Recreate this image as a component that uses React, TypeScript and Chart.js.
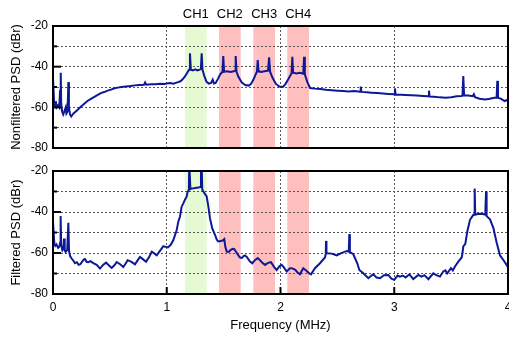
import React, { useEffect, useRef } from 'react';
import Chart from 'chart.js/auto';

// ---------- data ----------
const freqTop = [
  0.0, 0.01, 0.018, 0.025, 0.032, 0.045, 0.055, 0.062, 0.068, 0.072, 0.08, 0.09, 0.1, 0.112, 0.118, 0.128, 0.135, 0.14,
  0.15, 0.16, 0.18, 0.21, 0.24, 0.27, 0.3, 0.33, 0.36, 0.39, 0.42, 0.45, 0.48, 0.51, 0.54, 0.57, 0.6, 0.64, 0.68, 0.72,
  0.76, 0.8, 0.81, 0.82, 0.86, 0.9, 0.94, 0.98, 1.0, 1.03, 1.06, 1.08, 1.1, 1.12, 1.14, 1.16, 1.18, 1.196, 1.204, 1.212,
  1.23, 1.25, 1.27, 1.29, 1.3, 1.307, 1.314, 1.33, 1.35, 1.37, 1.39, 1.404, 1.415, 1.43, 1.45, 1.47, 1.49, 1.497, 1.504,
  1.53, 1.56, 1.59, 1.6, 1.606, 1.613, 1.63, 1.66, 1.69, 1.72, 1.74, 1.76, 1.78, 1.793, 1.8, 1.807, 1.83, 1.86, 1.89, 1.9,
  1.908, 1.93, 1.96, 1.99, 2.02, 2.04, 2.06, 2.08, 2.097, 2.104, 2.111, 2.14, 2.17, 2.2, 2.207, 2.214, 2.235, 2.26, 2.3,
  2.35, 2.4, 2.45, 2.5, 2.55, 2.6, 2.65, 2.7, 2.705, 2.712, 2.76, 2.8, 2.85, 2.9, 2.95, 3.0, 3.006, 3.012, 3.06, 3.1, 3.15,
  3.2, 3.25, 3.3, 3.305, 3.311, 3.35, 3.4, 3.45, 3.5, 3.55, 3.59, 3.6, 3.607, 3.614, 3.65, 3.69, 3.7, 3.71, 3.75, 3.8,
  3.84, 3.88, 3.9, 3.906, 3.912, 3.94, 3.97, 4.0,
];
const psdTop = [
  -45.5, -58, -60, -57, -60, -59, -60, -52, -43, -58, -62, -63.5, -62, -60, -63, -62, -47.5, -60,
  -63.5, -64.5, -63, -61.5, -60, -58.5, -57, -56, -55, -54, -53, -52.5, -51.8, -51.3, -50.6, -50.3, -50, -49.7, -49.5, -49.2,
  -49, -48.9, -47.8, -48.9, -48.6, -48.7, -48.4, -48.5, -48.3, -48.0, -48.4, -48.0, -47.6, -47.2, -46.2, -44.8, -43.0, -41.5, -33.4, -41.5,
  -41.8, -41.3, -41.8, -41.5, -41.0, -33.4, -41.5, -44.5, -47.5, -48.3, -48.0, -46.4, -48.3, -48.0, -46.0, -43.8, -42.5, -34.8, -42.5,
  -42.3, -42.6, -42.3, -42.0, -34.8, -42.5, -45.0, -47.8, -49.0, -49.3, -48.5, -46.6, -44.0, -42.5, -36.7, -42.3, -42.6, -42.3, -42.0, -35.4,
  -42.5, -45.5, -48.5, -49.8, -50.0, -48.8, -47.0, -45.0, -43.3, -35.1, -43.0, -43.3, -43.0, -43.5, -35.1, -43.8, -47.5, -50.5, -50.8,
  -51.0, -51.4, -51.6, -51.8, -52.0, -52.2, -52.0, -52.3, -49.8, -52.4, -52.6, -52.8, -53.0, -53.2, -53.4, -53.6, -50.7, -53.8, -53.8, -53.9, -54.0,
  -54.2, -54.4, -54.6, -51.8, -54.7, -54.8, -55.1, -55.3, -55.0, -54.6, -54.4, -54.3, -44.6, -54.2, -54.2, -54.5, -53.6, -55.0, -55.8, -56.2,
  -55.8, -55.3, -55.2, -47.0, -55.3, -55.8, -56.9, -56.2,
];

const freqBottom = [
  0.0, 0.012, 0.02, 0.03, 0.045, 0.055, 0.062, 0.067, 0.072, 0.082, 0.092, 0.097, 0.103, 0.111, 0.125, 0.135, 0.141, 0.15,
  0.164, 0.18, 0.193, 0.21, 0.225, 0.24, 0.255, 0.27, 0.281, 0.295, 0.31, 0.33, 0.35, 0.384, 0.413, 0.44, 0.466, 0.49,
  0.516, 0.54, 0.56, 0.59, 0.618, 0.64, 0.656, 0.69, 0.721, 0.745, 0.765, 0.79, 0.818, 0.845, 0.868, 0.89, 0.912, 0.94,
  0.97, 0.99, 1.01, 1.035, 1.058, 1.087, 1.102, 1.116, 1.131, 1.146, 1.16, 1.175, 1.184, 1.194, 1.198, 1.204, 1.208, 1.219,
  1.25, 1.278, 1.296, 1.301, 1.307, 1.312, 1.321, 1.34, 1.351, 1.365, 1.38, 1.4, 1.424, 1.44, 1.453, 1.475, 1.495, 1.506,
  1.515, 1.527, 1.545, 1.56, 1.58, 1.594, 1.61, 1.623, 1.64, 1.659, 1.675, 1.688, 1.705, 1.73, 1.752, 1.775, 1.8, 1.82,
  1.835, 1.864, 1.89, 1.916, 1.94, 1.966, 1.99, 2.01, 2.03, 2.054, 2.083, 2.105, 2.13, 2.15, 2.171, 2.2, 2.225, 2.25,
  2.268, 2.303, 2.347, 2.391, 2.398, 2.4, 2.404, 2.412, 2.45, 2.494, 2.53, 2.582, 2.6, 2.605, 2.61, 2.64, 2.675, 2.693,
  2.728, 2.772, 2.8, 2.816, 2.845, 2.875, 2.91, 2.948, 2.975, 3.0, 3.03, 3.05, 3.074, 3.1, 3.133, 3.167, 3.212, 3.24,
  3.265, 3.3, 3.343, 3.37, 3.402, 3.431, 3.45, 3.465, 3.499, 3.515, 3.534, 3.563, 3.593, 3.6, 3.607, 3.625, 3.642, 3.666,
  3.695, 3.702, 3.707, 3.712, 3.735, 3.754, 3.78, 3.8, 3.807, 3.812, 3.842, 3.871, 3.9, 3.93, 3.959, 3.988, 4.0,
];
const psdBottom = [
  -44.8, -55.5, -56.5, -55.8, -57.5, -57.0, -55, -42, -56, -58.6, -57.5, -52.9, -58.8, -59.5, -58.5, -45.3, -59, -61.5,
  -62.7, -63.8, -65, -64.5, -65.8, -65.5, -64.3, -63.2, -62.9, -64.3, -64.5, -64.0, -64.8, -65.8, -67.6, -65.8, -64.7, -66.0,
  -67.3, -66.0, -64.4, -65.5, -66.8, -65.0, -63.5, -64.3, -65.5, -63.5, -61.9, -63.0, -64.3, -62.0, -59.4, -60.2, -61.1, -59.0,
  -56.7, -57.0, -57.3, -56.0, -53.7, -48.9, -44.6, -42.3, -37.3, -35.8, -34, -32.5, -30.0, -29.5, -17, -17, -28.8, -28.6,
  -28.3, -28.0, -27.8, -17, -17, -29.0, -29.9, -31.5, -32.4, -37, -43.0, -48, -51.1, -53.5, -54.4, -54.2, -53.8, -53.2,
  -57.0, -59.3, -59.5, -58.6, -58.0, -58.1, -59.5, -60.6, -62.0, -62.5, -61.5, -61.2, -62.0, -64.0, -65.0, -63.5, -62.5, -63.5,
  -64.5, -65.8, -64.8, -64.5, -66.5, -68.3, -66.5, -65.8, -67.0, -69.0, -67.4, -67.5, -68.2, -69.5, -70.4, -67.4, -68.5, -69.8,
  -70.4, -67.4, -65.0, -62.2, -60.5, -54.1, -60.0, -60.1, -60.3, -61.2, -60.2, -59.0, -59.3, -50.8, -59.5, -60.6, -65.0, -68.3,
  -69.9, -72.3, -71.0, -70.4, -72.0, -72.3, -70.8, -70.7, -72.5, -73.1, -71.0, -71.5, -71.0, -72.0, -70.4, -72.7, -70.7, -71.5,
  -70.8, -72.8, -69.9, -70.8, -71.5, -69.0, -68.5, -70.0, -67.4, -68.5, -66.6, -64.2, -62.2, -60, -56.8, -55.5, -49.5, -43.8,
  -41.4, -41.2, -28.6, -41.3, -41.0, -40.9, -41.0, -41.3, -29.9, -42.0, -43.6, -47.7, -54.9, -61.2, -63.4, -65.8, -67,
];

const chLabels = ['CH1', 'CH2', 'CH3', 'CH4'];
const chStart = [1.16, 1.459, 1.761, 2.06];
const chEnd = [1.351, 1.65, 1.952, 2.251];
const chColors = ['#e5f9d3', '#ffbfbf', '#ffbfbf', '#ffbfbf'];

const yMin = -80;
const yMax = -20;
const xMin = 0;
const xMax = 4;

const FONT = "'Liberation Sans', Arial, Helvetica, sans-serif";
const LINE_COLOR = '#0c1896';

// ---------- plugins ----------
const shadePlugin = {
  id: 'shade',
  beforeDraw(chart: any) {
    const { ctx, chartArea, scales } = chart;
    const xs = scales.x;
    ctx.save();
    for (let i = 0; i < chLabels.length; i++) {
      const a = xs.getPixelForValue(chStart[i]);
      const b = xs.getPixelForValue(chEnd[i]);
      ctx.fillStyle = chColors[i];
      ctx.fillRect(a, chartArea.top, b - a, chartArea.bottom - chartArea.top);
    }
    ctx.restore();
  },
};

const framePlugin = {
  id: 'frame',
  afterDraw(chart: any, _args: any, opts: any) {
    const { ctx, chartArea, scales } = chart;
    const ys = scales.y;
    const xs = scales.x;
    ctx.save();
    ctx.strokeStyle = '#000';
    ctx.lineWidth = 2;
    ctx.strokeRect(chartArea.left, chartArea.top, chartArea.right - chartArea.left, chartArea.bottom - chartArea.top);
    for (let v = yMin; v <= yMax; v += 10) {
      const y = ys.getPixelForValue(v);
      const len = v % 20 === 0 ? 8 : 4;
      ctx.beginPath();
      ctx.moveTo(chartArea.left, y);
      ctx.lineTo(chartArea.left + len, y);
      ctx.stroke();
    }
    if (opts && opts.xTicks) {
      for (let v = xMin; v <= xMax; v += 1) {
        const x = xs.getPixelForValue(v);
        ctx.beginPath();
        ctx.moveTo(x, chartArea.bottom);
        ctx.lineTo(x, chartArea.bottom - 7);
        ctx.stroke();
      }
    }
    if (opts && opts.labels) {
      ctx.fillStyle = '#000';
      ctx.font = `13px ${FONT}`;
      ctx.textAlign = 'center';
      ctx.textBaseline = 'middle';
      for (let i = 0; i < chLabels.length; i++) {
        const cx = (xs.getPixelForValue(chStart[i]) + xs.getPixelForValue(chEnd[i])) / 2;
        ctx.fillText(chLabels[i], cx, 14);
      }
    }
    ctx.restore();
  },
};

function makeConfig(freq: number[], psd: number[], top: boolean, yTitle: string): any {
  const data = freq.map((f, i) => ({ x: f, y: psd[i] }));
  const gridCommon = { color: '#555', lineWidth: 1, drawTicks: false };
  return {
    type: 'line',
    data: {
      datasets: [
        {
          data,
          borderColor: LINE_COLOR,
          borderWidth: 2,
          pointRadius: 0,
          tension: 0,
          fill: false,
        },
      ],
    },
    options: {
      responsive: false,
      animation: false,
      devicePixelRatio: 1,
      layout: {
        autoPadding: false,
        padding: top ? { top: 26, right: 1, left: 0, bottom: 0 } : { top: 11, right: 1, left: 0, bottom: 0 },
      },
      plugins: {
        legend: { display: false },
        tooltip: { enabled: false },
        frame: { xTicks: !top, labels: top },
      },
      scales: {
        x: {
          type: 'linear',
          min: xMin,
          max: xMax,
          grid: gridCommon,
          border: { display: false, dash: [2, 2] },
          ticks: {
            display: !top,
            stepSize: 1,
            padding: 6,
            color: '#000',
            font: { size: 12, family: FONT },
          },
          title: {
            display: !top,
            text: 'Frequency (MHz)',
            color: '#000',
            font: { size: 13, family: FONT },
            padding: { top: 0, bottom: 6 },
          },
          afterFit(s: any) {
            s.height = top ? 12 : 45;
            s.paddingLeft = 0;
            s.paddingRight = 0;
          },
        },
        y: {
          min: yMin,
          max: yMax,
          grid: gridCommon,
          border: { display: false, dash: [2, 2] },
          ticks: {
            stepSize: 10,
            padding: 5,
            color: '#000',
            font: { size: 12, family: FONT },
            callback: (v: number) => (v % 20 === 0 ? String(v) : ''),
          },
          title: {
            display: true,
            text: yTitle,
            color: '#000',
            font: { size: 13, family: FONT },
            padding: { top: 9, bottom: 0 },
          },
          afterFit(s: any) {
            s.width = 53;
            s.paddingTop = 0;
            s.paddingBottom = 0;
          },
        },
      },
    },
    plugins: [shadePlugin, framePlugin],
  };
}

export default function App() {
  const topRef = useRef<HTMLCanvasElement | null>(null);
  const botRef = useRef<HTMLCanvasElement | null>(null);

  useEffect(() => {
    const c1 = new Chart(topRef.current as HTMLCanvasElement, makeConfig(freqTop, psdTop, true, 'Nonfiltered PSD (dBr)'));
    const c2 = new Chart(botRef.current as HTMLCanvasElement, makeConfig(freqBottom, psdBottom, false, 'Filtered PSD (dBr)'));
    return () => {
      c1.destroy();
      c2.destroy();
    };
  }, []);

  return (
    <div style={{ position: 'fixed', left: 0, top: 0, width: 509, height: 339, background: '#fff' }}>
      <canvas ref={topRef} width={509} height={160} style={{ position: 'absolute', left: 0, top: 0, display: 'block' }} />
      <canvas ref={botRef} width={509} height={179} style={{ position: 'absolute', left: 0, top: 160, display: 'block' }} />
    </div>
  );
}
